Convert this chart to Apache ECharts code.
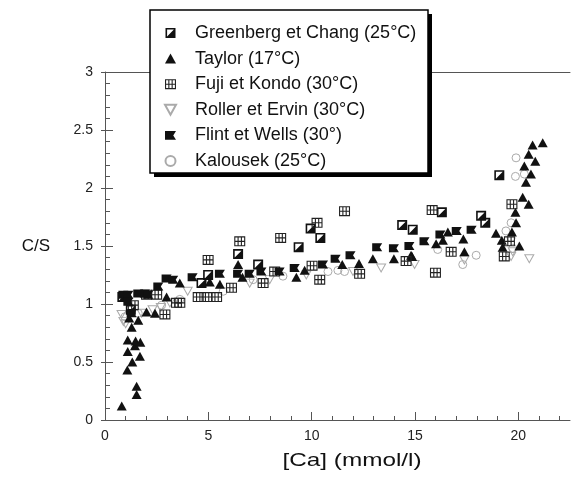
<!DOCTYPE html>
<html><head><meta charset="utf-8">
<script src="https://cdn.jsdelivr.net/npm/echarts@6/dist/echarts.min.js"></script>
<style>html,body{margin:0;padding:0;background:#fff}#c{width:578px;height:477px}</style>
</head><body><div id="c"></div>
<script>
// ---- data (x = [Ca] mmol/l, y = C/S) ----
const seriesNames = ['Greenberg et Chang (25°C)', 'Taylor (17°C)', 'Fuji et Kondo (30°C)', 'Roller et Ervin (30°C)', 'Flint et Wells (30°)', 'Kalousek (25°C)'];
const greenberg = [[0.84,1.06],[1.25,0.95],[4.67,1.18],[4.99,1.25],[6.44,1.43],[7.41,1.34],[9.37,1.49],[9.95,1.65],[10.42,1.57],[14.38,1.68],[14.89,1.64],[16.3,1.79],[18.2,1.76],[18.4,1.70],[19.08,2.11]];
const taylor = [[0.81,0.12],[1.53,0.22],[1.53,0.29],[1.08,0.43],[1.32,0.50],[1.69,0.55],[1.10,0.59],[1.45,0.64],[1.10,0.69],[1.48,0.68],[1.71,0.67],[1.29,0.80],[1.61,0.86],[1.17,0.88],[2.01,0.93],[2.42,0.92],[2.98,1.06],[3.62,1.18],[5.07,1.19],[5.56,1.17],[6.44,1.34],[6.65,1.23],[9.26,1.23],[9.66,1.29],[11.48,1.34],[12.29,1.35],[12.96,1.39],[13.98,1.39],[14.81,1.42],[14.86,1.41],[16.02,1.52],[16.35,1.55],[16.59,1.62],[17.34,1.56],[17.39,1.45],[18.92,1.61],[19.2,1.55],[19.24,1.49],[19.69,1.62],[19.86,1.79],[19.89,1.70],[20.05,1.50],[20.21,1.92],[20.5,1.86],[20.37,2.05],[20.61,2.12],[20.29,2.19],[20.82,2.23],[20.5,2.29],[20.69,2.37],[21.18,2.39]];
const fuji = [[1.37,0.99],[2.01,1.08],[2.5,1.08],[2.9,0.91],[3.46,1.01],[3.62,1.01],[4.51,1.06],[4.94,1.06],[5.4,1.06],[4.99,1.38],[6.12,1.14],[6.52,1.54],[7.65,1.18],[8.21,1.28],[8.5,1.57],[10.02,1.33],[10.26,1.70],[10.39,1.21],[11.59,1.80],[12.32,1.26],[14.57,1.37],[15.83,1.81],[15.99,1.27],[16.75,1.45],[19.32,1.41],[19.57,1.54],[19.69,1.86]];
const roller = [[0.8,0.91],[0.89,0.85],[1.0,0.83],[1.77,0.92],[2.3,0.95],[2.7,0.97],[3.14,1.01],[4.0,1.11],[7.0,1.18],[7.97,1.21],[9.74,1.25],[12.0,1.28],[13.36,1.31],[14.98,1.34],[17.39,1.38],[19.65,1.41],[19.73,1.45],[20.53,1.39]];
const flint = [[0.89,1.08],[1.13,1.08],[1.13,1.02],[1.29,0.92],[1.61,1.09],[1.93,1.09],[2.09,1.08],[2.58,1.15],[2.98,1.22],[3.3,1.21],[4.24,1.23],[5.56,1.26],[6.44,1.26],[7.0,1.26],[7.57,1.28],[8.45,1.28],[9.18,1.31],[10.55,1.34],[11.16,1.39],[11.88,1.42],[13.17,1.49],[13.98,1.48],[14.73,1.50],[15.46,1.54],[16.23,1.60],[17.02,1.63],[17.74,1.64]];
const kalousek = [[0.97,0.89],[1.61,0.92],[2.74,0.99],[3.62,1.04],[5.72,1.11],[7.17,1.21],[8.61,1.24],[10.79,1.28],[11.27,1.29],[11.59,1.28],[16.1,1.47],[17.31,1.34],[17.96,1.42],[19.4,1.63],[19.65,1.57],[19.65,1.70],[19.73,1.48],[19.86,2.10],[19.89,2.26],[20.29,2.12]];
const xMajorTicks = [0, 5, 10, 15, 20];
const xMinorTicks = [0,1,2,3,4,5,6,7,8,9,10,11,12,13,14,15,16,17,18,19,20,21,22];
const xTitle = '[Ca] (mmol/l)';
const yTitle = 'C/S';

// ---- symbols ----
const SYM_GREEN = 'path://M0,0L10,0L10,10L0,10ZM1.6,1.6L1.6,8.4L8.4,1.6Z';
const SYM_FUJI = 'path://M0,0L10,0L10,9L0,9ZM1,1L1,4L3,4L3,1ZM4,1L4,4L6,4L6,1ZM7,1L7,4L9,4L9,1ZM1,5L1,8L3,8L3,5ZM4,5L4,8L6,8L6,5ZM7,5L7,8L9,8L9,5Z';
const SYM_DOWN = 'path://M0,0L10,0L5,9Z';
const SYM_FLAG = 'path://M0,0L10,0L7.5,4L10,8L0,8Z';

const chart = echarts.init(document.getElementById('c'), null, {renderer: 'canvas'});
const FONT = 'Liberation Sans, Arial, Helvetica, sans-serif';
const axisCol = '#555';

function sc(name, data, symbol, size, fill, border) {
  return {
    type: 'scatter', name, data, symbol, symbolSize: size,
    itemStyle: {color: fill, borderColor: border, borderWidth: border ? 1 : 0, opacity: 1},
    emphasis: {disabled: true}, z: 3
  };
}

chart.setOption({
  animation: false,
  backgroundColor: '#fff',
  grid: {left: 105, right: 8, top: 72, bottom: 57, containLabel: false},
  xAxis: [
    {type: 'value', min: 0, max: 22.5, position: 'bottom',
     axisLine: {show: true, lineStyle: {color: axisCol, width: 1}},
     axisTick: {show: true, inside: true, length: 8, customValues: xMajorTicks, lineStyle: {color: axisCol}},
     axisLabel: {show: true, customValues: xMajorTicks, margin: 9, fontFamily: FONT, fontSize: 14, color: '#222'},
     splitLine: {show: false}},
    {type: 'value', min: 0, max: 22.5, position: 'bottom',
     axisLine: {show: false},
     axisTick: {show: true, inside: true, length: 4, customValues: xMinorTicks, lineStyle: {color: axisCol}},
     axisLabel: {show: false}, splitLine: {show: false}},
    {type: 'value', min: 0, max: 22.5, position: 'top',
     axisLine: {show: true, lineStyle: {color: axisCol, width: 1}},
     axisTick: {show: false}, axisLabel: {show: false}, splitLine: {show: false}}
  ],
  yAxis: [
    {type: 'value', min: 0, max: 3, interval: 0.5, position: 'left',
     axisLine: {show: true, lineStyle: {color: axisCol, width: 1}},
     axisTick: {show: true, inside: true, length: 8, lineStyle: {color: axisCol}},
     minorTick: {show: true, splitNumber: 5, length: 5, lineStyle: {color: axisCol}},
     axisLabel: {margin: 12, fontFamily: FONT, fontSize: 14, color: '#222'},
     splitLine: {show: false}, minorSplitLine: {show: false}},
    {type: 'value', min: 0, max: 3, interval: 0.5, position: 'right',
     axisLine: {show: false},
     axisTick: {show: true, inside: true, length: 4, lineStyle: {color: axisCol}},
     axisLabel: {show: false}, splitLine: {show: false}}
  ],
  legend: {
    orient: 'vertical', left: 159, top: 19, z: 20,
    itemWidth: 11, itemHeight: 10, itemGap: 7.6, selectedMode: false,
    data: seriesNames,
    textStyle: {fontFamily: FONT, fontSize: 18, color: '#111', lineHeight: 18, padding: [0, 0, 0, 14]}
  },
  graphic: [
    {type: 'rect', z: 15, shape: {x: 154, y: 14, width: 278, height: 163}, style: {fill: '#000'}},
    {type: 'rect', z: 16, shape: {x: 150, y: 10, width: 278, height: 163}, style: {fill: '#fff', stroke: '#000', lineWidth: 1.5}},
    {type: 'text', z: 16, x: 36, y: 246, style: {text: yTitle, font: '17px ' + FONT, fill: '#111', textAlign: 'center', textVerticalAlign: 'middle'}},
    {type: 'text', z: 16, x: 352, y: 461, scaleX: 1.28, style: {text: xTitle, font: '19px ' + FONT, fill: '#111', textAlign: 'center', textVerticalAlign: 'middle'}}
  ],
  series: [
    sc(seriesNames[3], roller, SYM_DOWN, [9, 8], 'rgba(255,255,255,0)', '#aaa'),
    sc(seriesNames[5], kalousek, 'circle', 8, 'rgba(255,255,255,0)', '#aaa'),
    sc(seriesNames[0], greenberg, SYM_GREEN, 10, '#111', null),
    sc(seriesNames[1], taylor, 'triangle', [10, 9], '#111', null),
    sc(seriesNames[2], fuji, SYM_FUJI, [11, 10], '#222', null),
    sc(seriesNames[4], flint, SYM_FLAG, [10, 8], '#111', null)
  ]
});
</script></body></html>
